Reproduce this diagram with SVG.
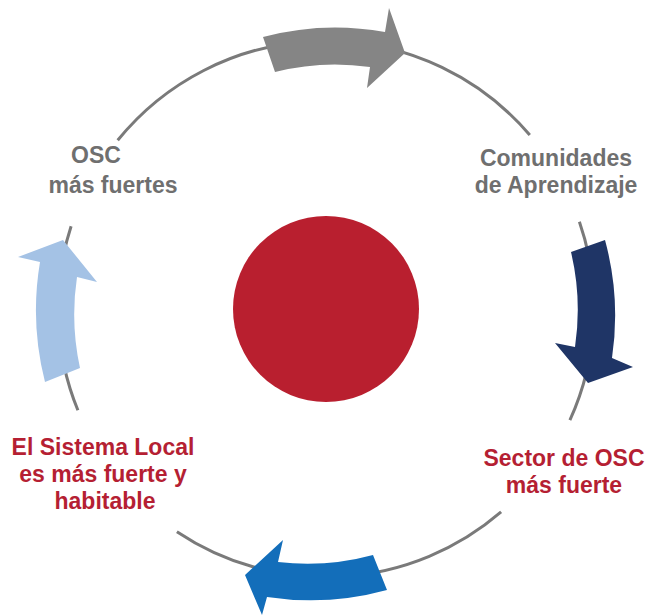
<svg xmlns="http://www.w3.org/2000/svg" width="652" height="615" viewBox="0 0 652 615">
  <style>
    .ring { fill: none; stroke: #7a7a7a; stroke-width: 3; }
    .lbl { font-family: "Liberation Sans", Arial, sans-serif; font-weight: 700; font-size: 23px; text-anchor: middle; }
    .gray { fill: #6f6f6f; }
    .red { fill: #b51f33; }
  </style>
  <rect width="652" height="615" fill="#ffffff"/>
  <g id="connectors">
    <path class="ring" d="M117.7,140.3 A268,268 0 0 1 529.8,135"/>
    <path class="ring" d="M579.4,221.7 A268,268 0 0 1 569.9,420.1"/>
    <path class="ring" d="M501.1,511.9 A268,268 0 0 1 176.9,531.7"/>
    <path class="ring" d="M77.9,410.3 A268,268 0 0 1 71.1,226.2"/>
    <path id="arrow-top" fill="#858585" d="M263,37 A280,280 0 0 1 385,32 L389,8 L405,53 L367,88 L370,67 A244,244 0 0 0 275,72 Z"/>
    <path id="arrow-right" fill="#1f3566" d="M605,240 A288,288 0 0 1 612,358 L633,367 L588,383 L555,343 L575,347 A251,251 0 0 0 571,252 Z"/>
    <path id="arrow-bottom" fill="#136eba" d="M387,590 A289,289 0 0 1 267,597 L262,615 L245,575 L283,540 L278,562 A251,251 0 0 0 373,555 Z"/>
    <path id="arrow-left" fill="#a4c2e5" d="M45,382 A290,290 0 0 1 40,262 L18,257 L63,240 L97,282 L77,277 A252,252 0 0 0 80,368 Z"/>
  </g>
  <g id="center">
    <circle cx="326" cy="309" r="93" fill="#b91f2f"/>
  </g>
  <g id="node-osc">
    <text class="lbl gray" x="96" y="163">OSC</text>
    <text class="lbl gray" x="113" y="193">más fuertes</text>
  </g>
  <g id="node-comunidades">
    <text class="lbl gray" x="556" y="166">Comunidades</text>
    <text class="lbl gray" x="556" y="193">de Aprendizaje</text>
  </g>
  <g id="node-sector">
    <text class="lbl red" x="564" y="466">Sector de OSC</text>
    <text class="lbl red" x="564" y="493">más fuerte</text>
  </g>
  <g id="node-sistema">
    <text class="lbl red" x="103" y="455">El Sistema Local</text>
    <text class="lbl red" x="103" y="482">es más fuerte y</text>
    <text class="lbl red" x="105" y="509">habitable</text>
  </g>
</svg>
